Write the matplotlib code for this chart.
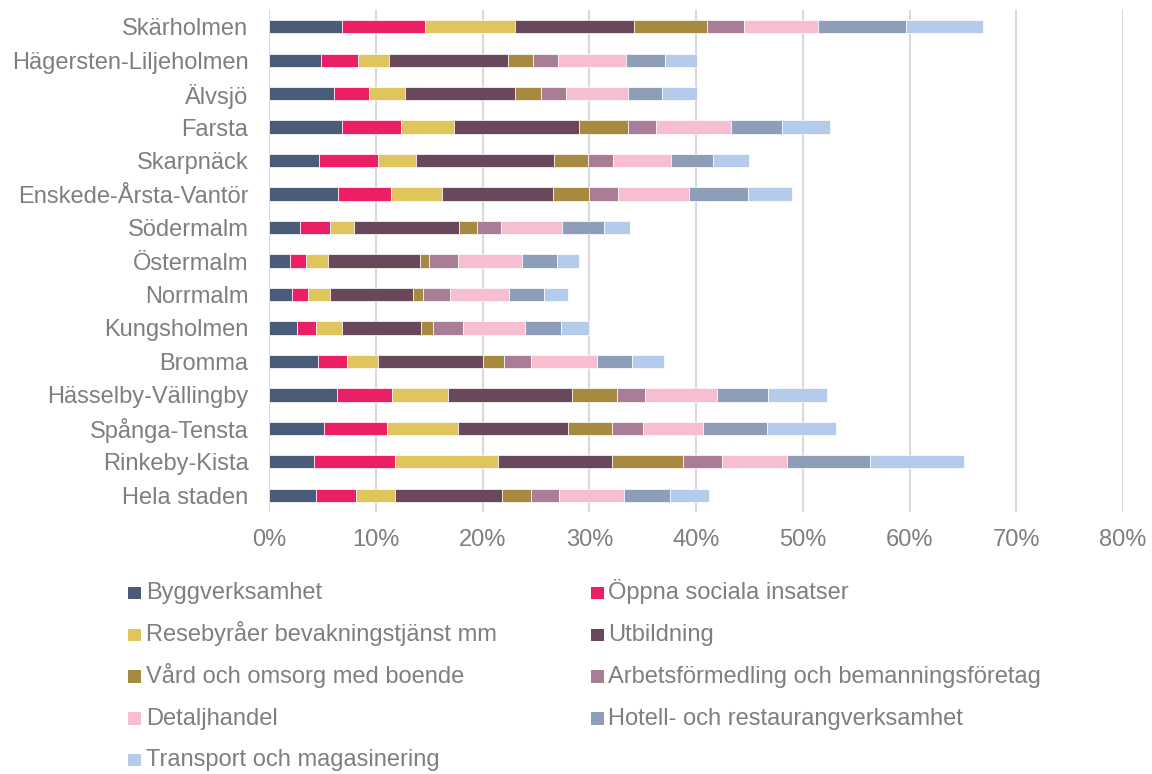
import matplotlib
matplotlib.use("Agg")
import matplotlib.pyplot as plt
from matplotlib.ticker import FuncFormatter, MultipleLocator
from matplotlib.patches import Rectangle
import numpy as np

plt.rcParams['font.family'] = ['Liberation Sans', 'DejaVu Sans']

districts = ["Skärholmen", "Hägersten-Liljeholmen", "Älvsjö", "Farsta", "Skarpnäck",
             "Enskede-Årsta-Vantör", "Södermalm", "Östermalm", "Norrmalm", "Kungsholmen",
             "Bromma", "Hässelby-Vällingby", "Spånga-Tensta", "Rinkeby-Kista", "Hela staden"]

series_names = ["Byggverksamhet", "Öppna sociala insatser", "Resebyråer bevakningstjänst mm",
                "Utbildning", "Vård och omsorg med boende",
                "Arbetsförmedling och bemanningsföretag", "Detaljhandel",
                "Hotell- och restaurangverksamhet", "Transport och magasinering"]

bygg = [6.8, 4.8, 6.1, 6.85, 4.7, 6.4, 2.9, 1.95, 2.15, 2.6, 4.6, 6.3, 5.15, 4.2, 4.4]
oppna = [7.8, 3.5, 3.25, 5.5, 5.45, 5.05, 2.8, 1.5, 1.5, 1.8, 2.65, 5.2, 5.9, 7.55, 3.7]
resebyraer = [8.4, 2.9, 3.4, 5.0, 3.6, 4.75, 2.25, 2.05, 2.05, 2.4, 2.95, 5.25, 6.6, 9.7, 3.7]
utbildning = [11.15, 11.15, 10.3, 11.7, 12.95, 10.35, 9.85, 8.6, 7.75, 7.45, 9.85, 11.6, 10.3, 10.7, 10.05]
vard = [6.9, 2.35, 2.4, 4.6, 3.2, 3.4, 1.7, 0.9, 1.0, 1.1, 1.95, 4.25, 4.15, 6.65, 2.7]
arbetsformedling = [3.4, 2.4, 2.4, 2.6, 2.3, 2.75, 2.2, 2.7, 2.45, 2.8, 2.55, 2.65, 2.9, 3.65, 2.6]
detaljhandel = [7.0, 6.35, 5.8, 7.0, 5.45, 6.6, 5.7, 5.95, 5.55, 5.8, 6.2, 6.7, 5.6, 6.1, 6.05]
hotell = [8.25, 3.65, 3.2, 4.8, 3.95, 5.55, 4.0, 3.35, 3.3, 3.4, 3.2, 4.8, 6.0, 7.75, 4.35]
transport = [7.2, 2.95, 3.2, 4.5, 3.4, 4.1, 2.45, 2.05, 2.25, 2.6, 3.0, 5.5, 6.55, 8.85, 3.65]

all_series = [bygg, oppna, resebyraer, utbildning, vard, arbetsformedling, detaljhandel, hotell, transport]
colors = ["#4A5C7A", "#EC1E66", "#E0C45C", "#69485C", "#A7893F",
          "#A87D95", "#F7BDD1", "#8E9EB8", "#B5CBEB"]

W, H = 1152, 774
fig = plt.figure(figsize=(W/100, H/100), dpi=100)
ax = fig.add_axes([269.3/W, 1-512/H, (1122.9-269.3)/W, (512-10)/H])

y = np.arange(len(districts))
left = np.zeros(len(districts))
for name, vals, c in zip(series_names, all_series, colors):
    v = np.array(vals)
    ax.barh(y, v, left=left, height=0.4, color=c, edgecolor='white',
            linewidth=0.5, label=name, zorder=3)
    left += v

ax.set_ylim(len(districts)-0.5, -0.5)
ax.set_xlim(0, 80)
ax.xaxis.set_major_locator(MultipleLocator(10))
ax.xaxis.set_major_formatter(FuncFormatter(lambda v, p: f"{v:.0f}%"))
ax.set_yticks(y)
ax.set_yticklabels(districts)
ax.grid(axis='x', color='#d9d9d9', linewidth=1.5, zorder=0)
ax.set_axisbelow(True)
for s in ax.spines.values():
    s.set_visible(False)
ax.tick_params(axis='both', length=0, labelsize=17, colors='#7f7f7f')
ax.tick_params(axis='y', pad=15)
ax.tick_params(axis='x', pad=12)

# legend: two columns, row-major order, drawn in figure pixel coordinates
col_x = [128.3, 591.0]
row_y0, row_dy = 593.0, 41.8
sq = 12.5
for i, (name, c) in enumerate(zip(series_names, colors)):
    r, col = divmod(i, 2)
    cx = col_x[col]
    cy = row_y0 + r * row_dy
    fig.add_artist(Rectangle((cx/W, 1-(cy+sq/2)/H), sq/W, sq/H,
                             transform=fig.transFigure, facecolor=c,
                             edgecolor='none'))
    fig.text((cx+sq+5)/W, 1-(cy+sq/2)/H, name, fontsize=17, color='#7f7f7f',
             ha='left', va='baseline')

fig.savefig("out.png", dpi=100)
